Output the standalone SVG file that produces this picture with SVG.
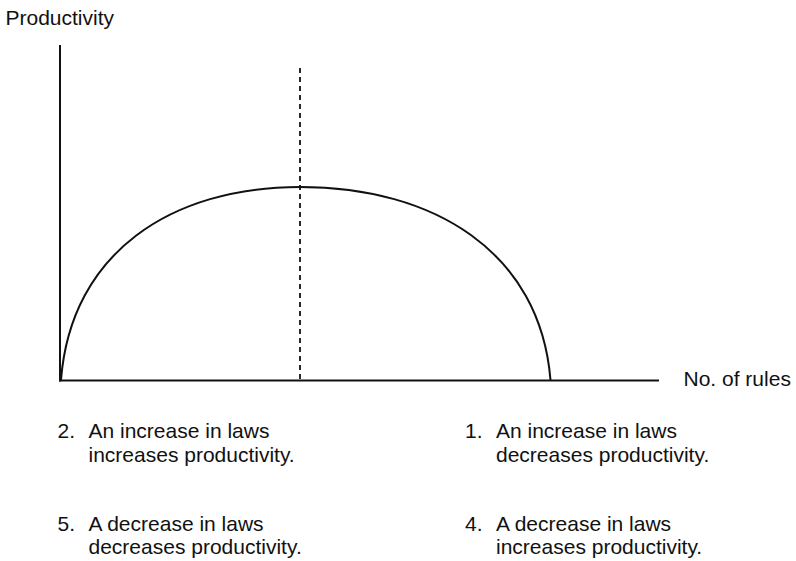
<svg xmlns="http://www.w3.org/2000/svg" width="796" height="561" viewBox="0 0 796 561">
<style>
text { font-family: "Liberation Sans", Arial, sans-serif; font-size: 21px; fill: #111; }
.axis { stroke: #111; stroke-width: 2; fill: none; }
.curve { stroke: #111; stroke-width: 2; fill: none; }
.dash { stroke: #111; stroke-width: 1.8; fill: none; stroke-dasharray: 5 4; }
</style>
<rect width="796" height="561" fill="#fff"/>
<g id="axes">
  <line class="axis" x1="60" y1="45" x2="60" y2="381.5"/>
  <line class="axis" x1="59" y1="380.5" x2="659" y2="380.5"/>
  <text x="5.5" y="25">Productivity</text>
  <text x="683.5" y="386">No. of rules</text>
</g>
<g id="curve">
  <path class="curve" d="M61,380 C71,252 172,187 300,187 C434,187 540,252 550.5,380"/>
</g>
<g id="peak-line">
  <line class="dash" x1="300" y1="68" x2="300" y2="380"/>
</g>
<g id="label-2">
  <text x="57.5" y="438">2.</text>
  <text x="88.5" y="438">An increase in laws</text>
  <text x="88.5" y="462">increases productivity.</text>
</g>
<g id="label-5">
  <text x="57.5" y="530.5">5.</text>
  <text x="88.5" y="530.5">A decrease in laws</text>
  <text x="88.5" y="554">decreases productivity.</text>
</g>
<g id="label-1">
  <text x="465" y="438">1.</text>
  <text x="496" y="438">An increase in laws</text>
  <text x="496" y="462">decreases productivity.</text>
</g>
<g id="label-4">
  <text x="465" y="530.5">4.</text>
  <text x="496" y="530.5">A decrease in laws</text>
  <text x="496" y="554">increases productivity.</text>
</g>
</svg>
